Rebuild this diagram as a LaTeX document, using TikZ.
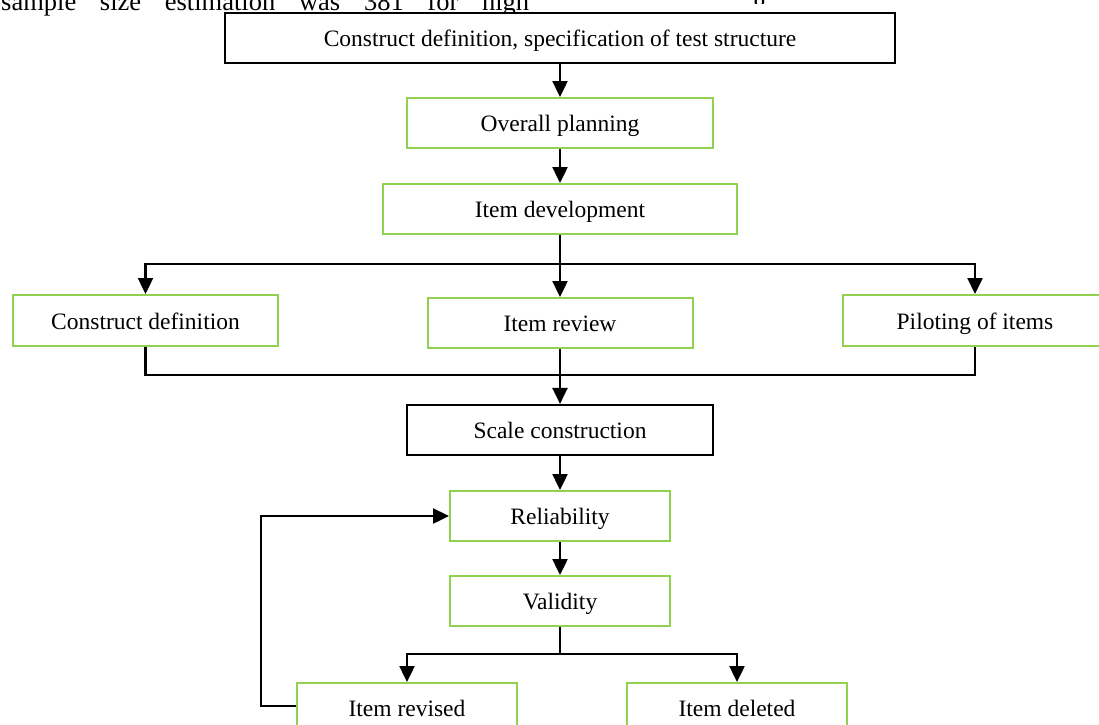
\documentclass[tikz,border=0pt]{standalone}
\usepackage{fontspec}
\setmainfont{Liberation Serif}
\usetikzlibrary{arrows.meta}
\definecolor{boxgreen}{RGB}{146,208,80}
\begin{document}
\begin{tikzpicture}[x=1pt,y=-1pt,
  every node/.style={font=\fontsize{23.5}{28}\selectfont},
  boxtext/.style={text height=22pt, text depth=5pt},
  gbox/.style={boxtext, draw=boxgreen, line width=2pt, inner sep=0pt, fill=white, minimum height=50pt},
  kbox/.style={boxtext, draw=black, line width=2.2pt, inner sep=0pt, fill=white, minimum height=50pt},
  ln/.style={line width=2.4pt, draw=black},
  arr/.style={ln, -{Triangle[width=15pt,length=16pt]}}]
\useasboundingbox (0,0) rectangle (1099,724);
\clip (0,0) rectangle (1099,724);

% running text of the page above (cut off)
\node[anchor=base west, inner sep=0pt, font=\fontsize{26.5}{30}\selectfont] (txt) at (1,10) {\makebox[528pt][s]{sample size estimation was 381 for high}};
\begin{scope}
  \clip (745,0) rectangle (775,3.5);
  \node[anchor=base west, inner sep=0pt, font=\fontsize{26.5}{30}\selectfont] (gfrag) at (753,10) {g};
\end{scope}

% boxes
\node[kbox, minimum width=670pt] (top) at (560,38) {Construct definition, specification of test structure};
\node[gbox, minimum width=306pt] (plan) at (560,123) {Overall planning};
\node[gbox, minimum width=354pt] (dev) at (560,209) {Item development};
\node[gbox, minimum width=265pt, minimum height=51pt] (cdef) at (145.5,320.5) {Construct definition};
\node[gbox, minimum width=265pt] (rev) at (560,323) {Item review};
\node[gbox, minimum width=264pt, minimum height=51pt] (pil) at (975,320.5) {Piloting of items};
\node[kbox, minimum width=306pt] (scale) at (560,430) {Scale construction};
\node[gbox, minimum width=220pt] (rel) at (560,516) {Reliability};
\node[gbox, minimum width=220pt] (val) at (560,601) {Validity};
\node[gbox, minimum width=220pt] (irev) at (407,708) {Item revised};
\node[gbox, minimum width=220pt] (idel) at (737,708) {Item deleted};

% junctions
\coordinate (j1) at (560,264);
\coordinate (j2) at (560,375);
\coordinate (j3) at (560,654);
\coordinate (fb) at (261,706);

% connectors
\draw[arr] (top) -- (plan);
\draw[arr] (plan) -- (dev);
\draw[ln] (dev.south) -- (j1);
\draw[arr] (j1) -| (cdef.north);
\draw[arr] (j1) -- (j1 |- rev.north);
\draw[arr] (j1) -| (pil.north);
\draw[ln] (cdef.south) |- (j2) -| (pil.south);
\draw[ln] (rev.south) -- (rev.south |- j2);
\draw[arr] (j2) -- (scale.north);
\draw[arr] (scale) -- (rel);
\draw[arr] (rel) -- (val);
\draw[ln] (val.south) -- (j3);
\draw[arr] (j3) -| (irev.north);
\draw[arr] (j3) -| (idel.north);
\draw[arr] (irev.west |- fb) -- (fb) |- (rel.west);
\end{tikzpicture}
\end{document}
